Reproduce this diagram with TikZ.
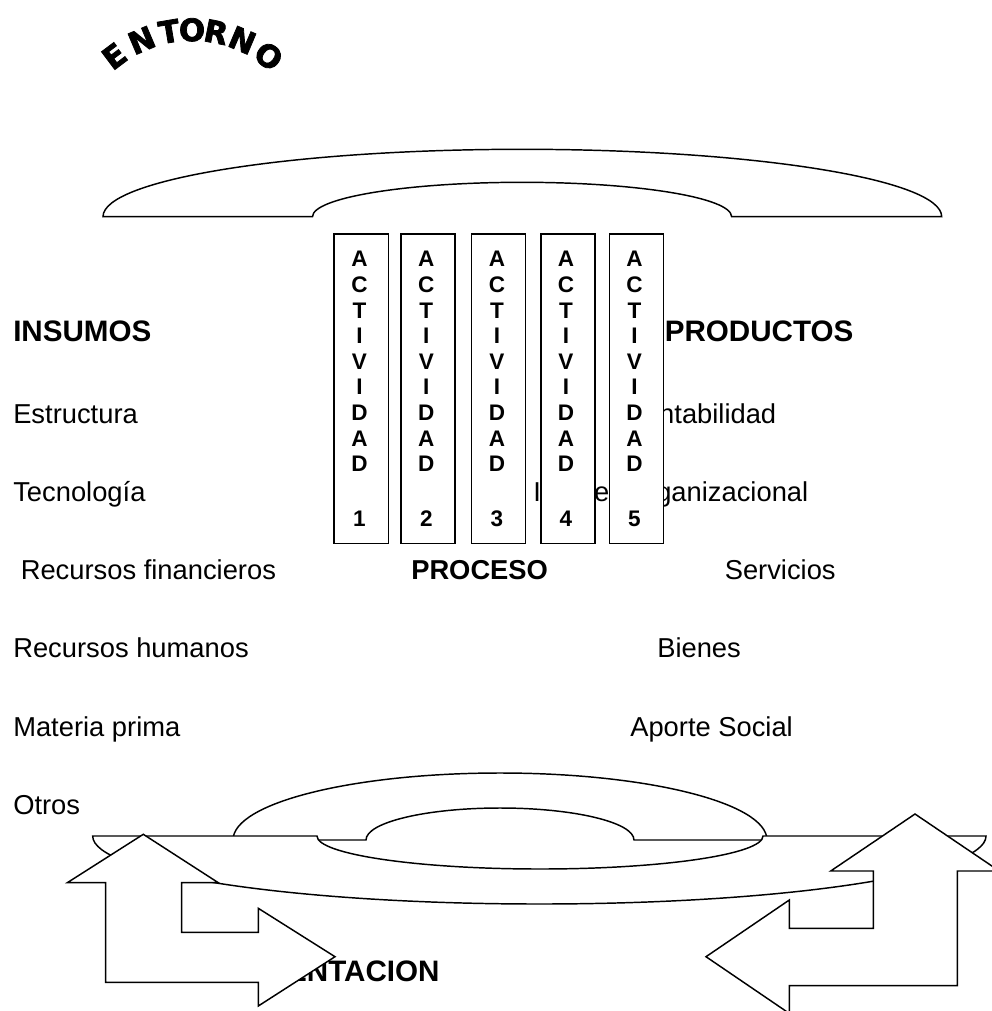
\documentclass[tikz,border=0pt]{standalone}
\usepackage{fontspec}
\setmainfont{Liberation Sans}
\newfontfamily\entfont{DejaVu Sans Bold}[FakeBold=2.5]
\begin{document}
\begin{tikzpicture}[x=0.75pt,y=-0.75pt,
  txt/.style={anchor=base west, inner sep=0pt, font=\fontsize{20.5}{24}\selectfont},
  hdr/.style={anchor=base west, inner sep=0pt, font=\fontsize{22.2}{26}\selectfont\bfseries},
  proc/.style={anchor=base west, inner sep=0pt, font=\fontsize{20.5}{24}\selectfont\bfseries},
  act/.style={anchor=base, inner sep=0pt, font=\fontsize{16.9}{20}\selectfont\bfseries},
  ent/.style={anchor=base, inner sep=0pt, font=\entfont\fontsize{23}{26}\selectfont},
  shapeline/.style={draw=black, line width=1.1pt, line join=miter},
  whiteshape/.style={shapeline, fill=white},
  actbox/.style={draw=black, fill=white, line width=1.1pt}]

\useasboundingbox (0,0) rectangle (992,1011);
\clip (0,0) rectangle (992,1011);

% ENTORNO (arched)
\node[ent, rotate=37]    (ent1) at (121.0,65.0) {E};
\node[ent, rotate=23]    (ent2) at (146.0,50.5) {N};
\node[ent, rotate=9.5]   (ent3) at (171.0,42.5) {T};
\node[ent, rotate=-0.2]  (ent4) at (192.0,41.0) {O};
\node[ent, rotate=-11]   (ent5) at (214.0,43.0) {R};
\node[ent, rotate=-23]   (ent6) at (238.0,50.5) {N};
\node[ent, rotate=-37]   (ent7) at (262.0,65.0) {O};

% top block arc
\draw[shapeline] (103,216.7) arc[start angle=180,end angle=0,x radius=314.51pt,y radius=50.55pt]
  -- (731.6,216.7) arc[start angle=0,end angle=180,x radius=157.16pt,y radius=25.8pt] -- cycle;

% left column
\node[hdr] (insumos) at (13,341.7) {INSUMOS};
\node[txt] (estructura) at (13,423) {Estructura};
\node[txt] (tecnologia) at (13,501) {Tecnología};
\node[txt] (recfin) at (20.5,579.3) {Recursos financieros};
\node[txt] (rechum) at (13,657.7) {Recursos humanos};
\node[txt] (materia) at (13,736) {Materia prima};
\node[txt] (otros) at (13,814.3) {Otros};

% right column
\node[hdr] (productos) at (664.5,341.7) {PRODUCTOS};
\node[txt] (rentab) at (624,423) {Rentabilidad};
\node[txt] (imagen) at (533,501) {Imagen organizacional};
\node[txt] (servicios) at (724.5,579.3) {Servicios};
\node[txt] (bienes) at (657,657.7) {Bienes};
\node[txt] (aporte) at (630,736) {Aporte Social};

\node[proc] (proceso) at (411,579.3) {PROCESO};

% activity boxes
\foreach \xa/\xb in {334/388.3, 401/455, 471.7/525.7, 541/595, 609.3/663.3}{
  \draw[actbox] (\xa,234) rectangle (\xb,543.3);
}
\foreach \bx/\n in {359.5/1, 426.3/2, 497/3, 566/4, 634.5/5}{
  \foreach \L [count=\k from 0] in {A,C,T,I,V,I,D,A,D}{
    \node[act] (a\n-\k) at (\bx,{266.9+25.6*\k}) {\L};
  }
  \node[act] (num\n) at (\bx,526.5) {\n};
}

% bottom: upward block arc
\draw[shapeline] (233,840) arc[start angle=180,end angle=0,x radius=200.25pt,y radius=50.25pt]
  -- (634,840) arc[start angle=0,end angle=180,x radius=100.5pt,y radius=24pt] -- cycle;
% bottom: downward block arc
\draw[whiteshape] (92.7,836) -- (317,836)
  arc[start angle=180,end angle=360,x radius=167.25pt,y radius=24.75pt]
  -- (986,836) arc[start angle=0,end angle=-180,x radius=335pt,y radius=51pt] -- cycle;

\node[hdr] (retro) at (111,981) {RETROALIMENTACION};

% left bent arrow (up and right)
\draw[whiteshape] (143.3,834.3) -- (218.3,882.7) -- (181.7,882.7) -- (181.7,932.3)
  -- (258.3,932.3) -- (258.3,908.3) -- (335,956.7) -- (258.3,1006) -- (258.3,982.3)
  -- (105.7,982.3) -- (105.7,882.7) -- (67.3,882.7) -- cycle;
% right bent arrow (up and left)
\draw[whiteshape] (915,814) -- (999.3,871) -- (957.3,871) -- (957.3,985.7)
  -- (789.3,985.7) -- (789.3,1013.4) -- (706,956.7) -- (789.3,900) -- (789.3,928.3)
  -- (873.3,928.3) -- (873.3,871) -- (830.7,871) -- cycle;
\end{tikzpicture}
\end{document}
